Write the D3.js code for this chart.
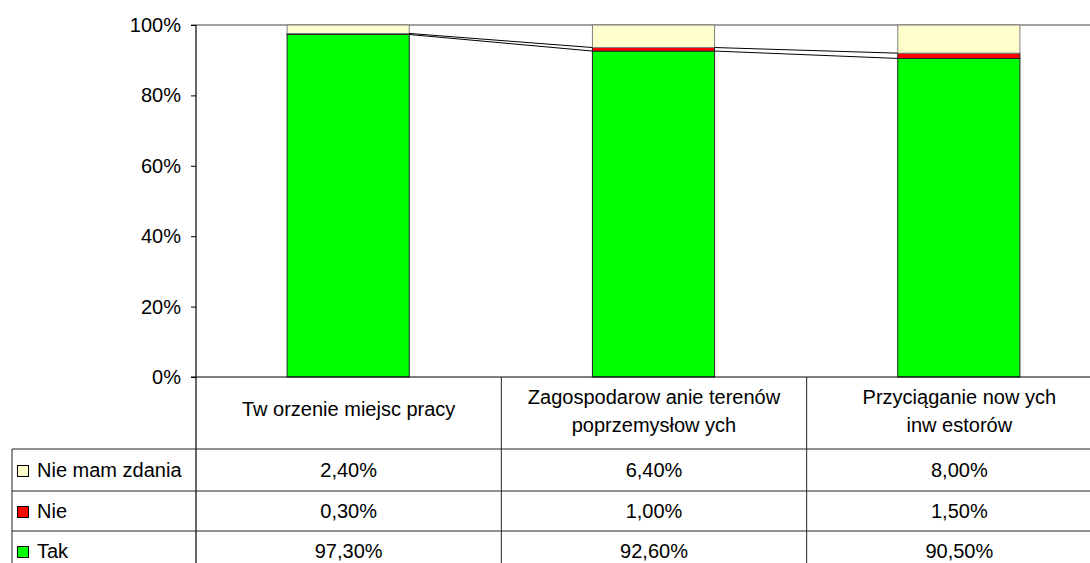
<!DOCTYPE html>
<html>
<head>
<meta charset="utf-8">
<script src="https://cdn.jsdelivr.net/npm/d3@7/dist/d3.min.js"></script>
<style>
  html, body { margin: 0; padding: 0; background: #fff; }
  svg { display: block; font-family: "Liberation Sans", Arial, sans-serif; }
</style>
</head>
<body>
<svg id="chart" width="1090" height="563"></svg>
<script>
// ---- data ----
const categories = ["Tworzenie miejsc pracy", "Zagospodarowanie terenów poprzemysłowych", "Przyciąganie nowych inwestorów"];
const categoryLines = [["Tw orzenie miejsc pracy"], ["Zagospodarow anie terenów", "poprzemysłow ych"], ["Przyciąganie now ych", "inw estorów"]];
const seriesNames = ["Tak", "Nie", "Nie mam zdania"];
const takValues = [97.3, 92.6, 90.5];
const nieValues = [0.3, 1.0, 1.5];
const nieMamValues = [2.4, 6.4, 8.0];
const yTicks = [0, 20, 40, 60, 80, 100];
const seriesColors = ["#00ff00", "#ff0000", "#ffffcc"];

const svg = d3.select("#chart");
const W = 1090, H = 563;
const plot = { left: 196, right: 1112, top: 25, bottom: 377 };
const tableLeft = 12;
const rowLines = [449, 491, 531];
const rowCenters = [470, 511, 551];

const x = d3.scaleBand().domain(categories).range([plot.left, plot.right]).paddingInner(0.6).paddingOuter(0.3);
const y = d3.scaleLinear().domain([0, 100]).range([plot.bottom, plot.top]);
const colX = d3.scaleBand().domain(categories).range([plot.left, plot.right]);

const series = [takValues, nieValues, nieMamValues];
const data = categories.map((c, i) => ({ cat: c, Tak: takValues[i], Nie: nieValues[i], "Nie mam zdania": nieMamValues[i] }));
const stack = d3.stack().keys(seriesNames)(data);

// top (100%) line
svg.append("line").attr("x1", plot.left - 5).attr("x2", W).attr("y1", y(100)).attr("y2", y(100))
  .attr("stroke", "#808080").attr("stroke-width", 1.5);

// bars
stack.forEach((s, si) => {
  svg.append("g").selectAll("rect").data(s).join("rect")
    .attr("x", (d, i) => x(categories[i]) - 0.5)
    .attr("y", d => y(d[1]))
    .attr("width", x.bandwidth())
    .attr("height", d => y(d[0]) - y(d[1]))
    .attr("fill", seriesColors[si])
    .attr("stroke", si === 2 ? "#808080" : "#222")
    .attr("stroke-width", 1);
});

// series lines between bars (tops of Tak and Nie)
[0, 1].forEach(si => {
  const s = stack[si];
  for (let i = 0; i < categories.length - 1; i++) {
    svg.append("line")
      .attr("x1", x(categories[i]) + x.bandwidth() - 0.5).attr("y1", y(s[i][1]))
      .attr("x2", x(categories[i + 1]) - 0.5).attr("y2", y(s[i + 1][1]))
      .attr("stroke", "#000").attr("stroke-width", 1);
  }
});

// y axis
const yAxis = d3.axisLeft(y).tickValues(yTicks).tickFormat(d => d + "%").tickSize(5).tickPadding(10);
const ga = svg.append("g").attr("transform", `translate(${plot.left},0)`).call(yAxis);
ga.select(".domain").remove();
ga.selectAll(".tick line").attr("stroke", "#000");
ga.selectAll(".tick text").attr("font-size", 20).attr("fill", "#000")
  .attr("font-family", "'Liberation Sans', Arial, sans-serif");

// axis line extends through table
svg.append("line").attr("x1", plot.left).attr("x2", plot.left).attr("y1", plot.top).attr("y2", H)
  .attr("stroke", "#000").attr("stroke-width", 1.2);
// 0% line
svg.append("line").attr("x1", plot.left - 5).attr("x2", W).attr("y1", plot.bottom).attr("y2", plot.bottom)
  .attr("stroke", "#000").attr("stroke-width", 1.2);

// table grid
categories.forEach((c, i) => {
  if (i > 0) svg.append("line").attr("x1", colX(c)).attr("x2", colX(c)).attr("y1", plot.bottom).attr("y2", H)
    .attr("stroke", "#222").attr("stroke-width", 1);
});
rowLines.forEach(r => {
  svg.append("line").attr("x1", tableLeft).attr("x2", W).attr("y1", r).attr("y2", r)
    .attr("stroke", "#222").attr("stroke-width", 1);
});
svg.append("line").attr("x1", tableLeft).attr("x2", tableLeft).attr("y1", rowLines[0]).attr("y2", H)
  .attr("stroke", "#222").attr("stroke-width", 1);

// category labels
const catBaselines = { 1: [416], 2: [404, 432] };
categories.forEach((c, i) => {
  const lines = categoryLines[i];
  const t = svg.append("text").attr("text-anchor", "middle").attr("font-size", 20).attr("fill", "#000");
  lines.forEach((ln, li) => {
    t.append("tspan").attr("x", colX(c) + colX.bandwidth() / 2).attr("y", catBaselines[lines.length][li]).text(ln);
  });
});

// table rows: top to bottom Nie mam zdania, Nie, Tak
const rowOrder = [2, 1, 0];
const fmt = v => v.toFixed(2).replace(".", ",") + "%";
rowOrder.forEach((si, ri) => {
  const cy = rowCenters[ri];
  svg.append("rect").attr("x", 17.5).attr("y", cy - 4.5).attr("width", 11).attr("height", 11)
    .attr("fill", seriesColors[si]).attr("stroke", "#000").attr("stroke-width", 1);
  svg.append("text").attr("x", 37).attr("y", cy + 7).attr("font-size", 20).attr("fill", "#000")
    .text(si === 2 ? "Nie mam zdania" : seriesNames[si]);
  categories.forEach((c, ci) => {
    svg.append("text").attr("x", colX(c) + colX.bandwidth() / 2).attr("y", cy + 7)
      .attr("text-anchor", "middle").attr("font-size", 20).attr("fill", "#000")
      .text(fmt(series[si][ci]));
  });
});
</script>
</body>
</html>
